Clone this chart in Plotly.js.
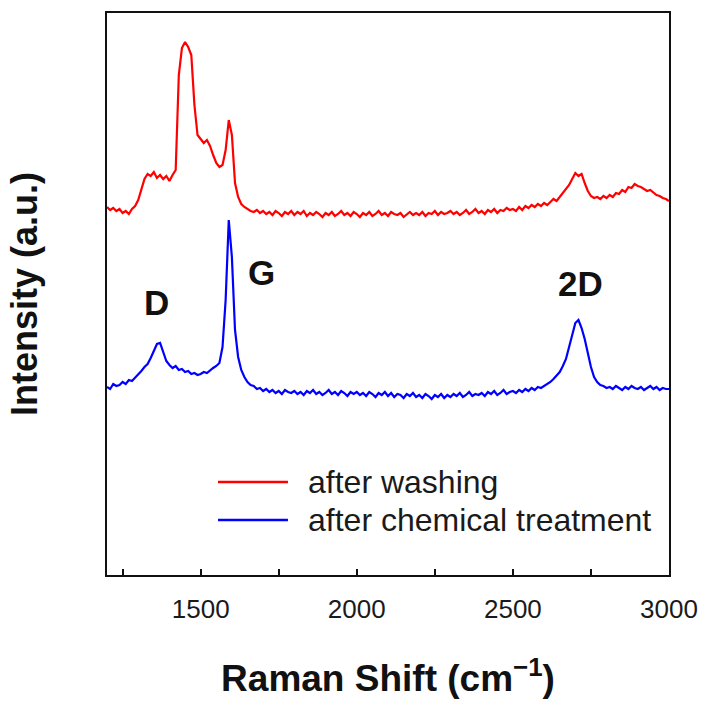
<!DOCTYPE html>
<html>
<head>
<meta charset="utf-8">
<script src="https://cdn.plot.ly/plotly-3.0.1.min.js"></script>
<style>html,body{margin:0;padding:0;background:#fff;}#chart{width:711px;height:709px;}</style>
</head>
<body>
<div id="chart"></div>
<script>
// Raman shift (cm^-1), shared by both spectra
const shift = [
 1200,1210,1220,1230,1240,1250,1260,1270,1280,1290,
 1300,1310,1320,1330,1340,1350,1360,1370,1380,1390,
 1400,1410,1420,1430,1440,1450,1460,1470,1480,1490,
 1500,1510,1520,1530,1540,1550,1560,1570,1580,1590,
 1600,1610,1620,1630,1640,1650,1660,1670,1680,1690,
 1700,1710,1720,1730,1740,1750,1760,1770,1780,1790,
 1800,1810,1820,1830,1840,1850,1860,1870,1880,1890,
 1900,1910,1920,1930,1940,1950,1960,1970,1980,1990,
 2000,2010,2020,2030,2040,2050,2060,2070,2080,2090,
 2100,2110,2120,2130,2140,2150,2160,2170,2180,2190,
 2200,2210,2220,2230,2240,2250,2260,2270,2280,2290,
 2300,2310,2320,2330,2340,2350,2360,2370,2380,2390,
 2400,2410,2420,2430,2440,2450,2460,2470,2480,2490,
 2500,2510,2520,2530,2540,2550,2560,2570,2580,2590,
 2600,2610,2620,2630,2640,2650,2660,2670,2680,2690,
 2700,2710,2720,2730,2740,2750,2760,2770,2780,2790,
 2800,2810,2820,2830,2840,2850,2860,2870,2880,2890,
 2900,2910,2920,2930,2940,2950,2960,2970,2980,2990,
 3000
];

// Intensity (a.u., offset) after washing
const afterWashing = [
 368,365,367,364,366,362,364,361,366,369,
 375,386,396,401,399,403,397,400,396,399,
 394,400,405,500,527,533,528,520,470,440,
 436,432,435,429,420,412,408,410,425,455,
 440,392,378,371,368,366,364,363,365,362,
 364,361,363,360,364,362,359,363,361,364,
 360,363,361,364,359,362,360,363,361,358,
 362,360,363,359,361,364,360,362,359,363,
 361,358,362,360,363,359,361,364,360,362,
 359,363,361,360,362,358,361,363,360,362,
 360,363,359,362,361,364,360,363,361,362,
 364,361,363,360,362,365,361,363,366,362,
 364,361,365,363,366,362,365,364,367,365,
 366,364,368,365,369,367,370,368,371,369,
 372,370,373,376,374,378,381,385,390,396,
 402,399,401,392,384,379,377,378,376,379,
 377,380,378,382,381,385,383,388,387,391,
 389,388,386,384,385,382,380,379,377,376,
 374
];

// Intensity (a.u., offset) after chemical treatment
const afterChemical = [
 188,186,191,189,190,193,191,195,194,197,
 201,204,208,211,217,224,231,232,222,214,
 210,207,209,205,206,203,204,201,202,200,
 201,203,202,205,207,209,212,228,275,355,
 318,245,218,205,198,193,190,189,186,187,
 184,186,183,185,182,184,181,185,183,182,
 184,181,183,180,184,182,185,181,183,180,
 182,185,181,183,180,184,182,179,183,181,
 183,180,182,179,183,181,178,182,180,183,
 179,182,178,181,180,177,181,179,182,178,
 180,177,181,179,176,180,178,181,177,180,
 178,181,179,182,178,180,183,179,181,180,
 182,179,183,181,184,180,182,185,181,183,
 184,182,185,183,186,184,187,185,188,187,
 189,191,193,196,199,203,209,216,228,240,
 252,255,247,236,222,208,198,193,190,189,
 187,188,186,189,187,185,188,186,189,187,
 186,188,185,187,189,186,188,185,187,186,
 186
];

const seriesNames = ['after washing', 'after chemical treatment'];
const seriesColors = ['#ff0000', '#0000ff'];

const xTickVals = [1500, 2000, 2500, 3000];
const xTickText = ['1500', '2000', '2500', '3000'];
const xMinorTickVals = [1250, 1750, 2250, 2750];

// Peak labels
const peakNames = ['D', 'G', '2D'];
const peakX = [1360, 1696, 2718];
const peakY = [273, 303, 292];

const FONT = 'Arial, "Liberation Sans", Helvetica, sans-serif';

const traces = [
  {x: shift, y: afterWashing, name: seriesNames[0], type: 'scatter', mode: 'lines',
   line: {color: seriesColors[0], width: 2.2}},
  {x: shift, y: afterChemical, name: seriesNames[1], type: 'scatter', mode: 'lines',
   line: {color: seriesColors[1], width: 2.2}}
];

const annotations = peakNames.map((t, i) => ({
  x: peakX[i], y: peakY[i], xref: 'x', yref: 'y', text: '<b>' + t + '</b>',
  showarrow: false, font: {family: FONT, size: 35, color: '#111'},
  xanchor: 'center', yanchor: 'middle'
}));

// custom legend (long line samples)
const legendY = [0.1655, 0.0979];
const shapes = [];
seriesNames.forEach((n, i) => {
  shapes.push({type: 'line', xref: 'paper', yref: 'paper', x0: 0.1975, x1: 0.322,
    y0: legendY[i], y1: legendY[i], line: {color: seriesColors[i], width: 2.5}});
  annotations.push({xref: 'paper', yref: 'paper', x: 0.354, y: legendY[i], text: n,
    showarrow: false, xanchor: 'left', yanchor: 'middle',
    font: {family: FONT, size: 32, color: '#1a1a1a'}});
});

const layout = {
  width: 711, height: 709,
  margin: {l: 107, r: 42, t: 13, b: 134, pad: 0},
  paper_bgcolor: '#fff', plot_bgcolor: '#fff',
  showlegend: false,
  font: {family: FONT, color: '#1a1a1a'},
  xaxis: {
    range: [1200, 3000], showgrid: false, zeroline: false,
    showline: true, linecolor: '#111', linewidth: 2, mirror: true,
    ticks: 'inside', ticklen: 6, tickwidth: 2, tickcolor: '#111',
    tickmode: 'array', tickvals: xTickVals, ticktext: xTickText,
    minor: {tickmode: 'array', tickvals: xMinorTickVals, ticks: 'inside', ticklen: 6, tickwidth: 2, tickcolor: '#111', showgrid: false},
    tickfont: {family: FONT, size: 26, color: '#1a1a1a'},
    ticklabelstandoff: 10,
    title: {text: '<b>Raman Shift (cm<sup>−1</sup>)</b>', font: {family: FONT, size: 37, color: '#111'}, standoff: 42}
  },
  yaxis: {
    range: [0, 562], showgrid: false, zeroline: false,
    showline: true, linecolor: '#111', linewidth: 2, mirror: true,
    ticks: '', showticklabels: false,
    title: {text: '<b>Intensity (a.u.)</b>', font: {family: FONT, size: 36, color: '#111'}, standoff: 56}
  },
  annotations: annotations,
  shapes: shapes
};

Plotly.newPlot('chart', traces, layout, {displayModeBar: false, staticPlot: true});
</script>
</body>
</html>
